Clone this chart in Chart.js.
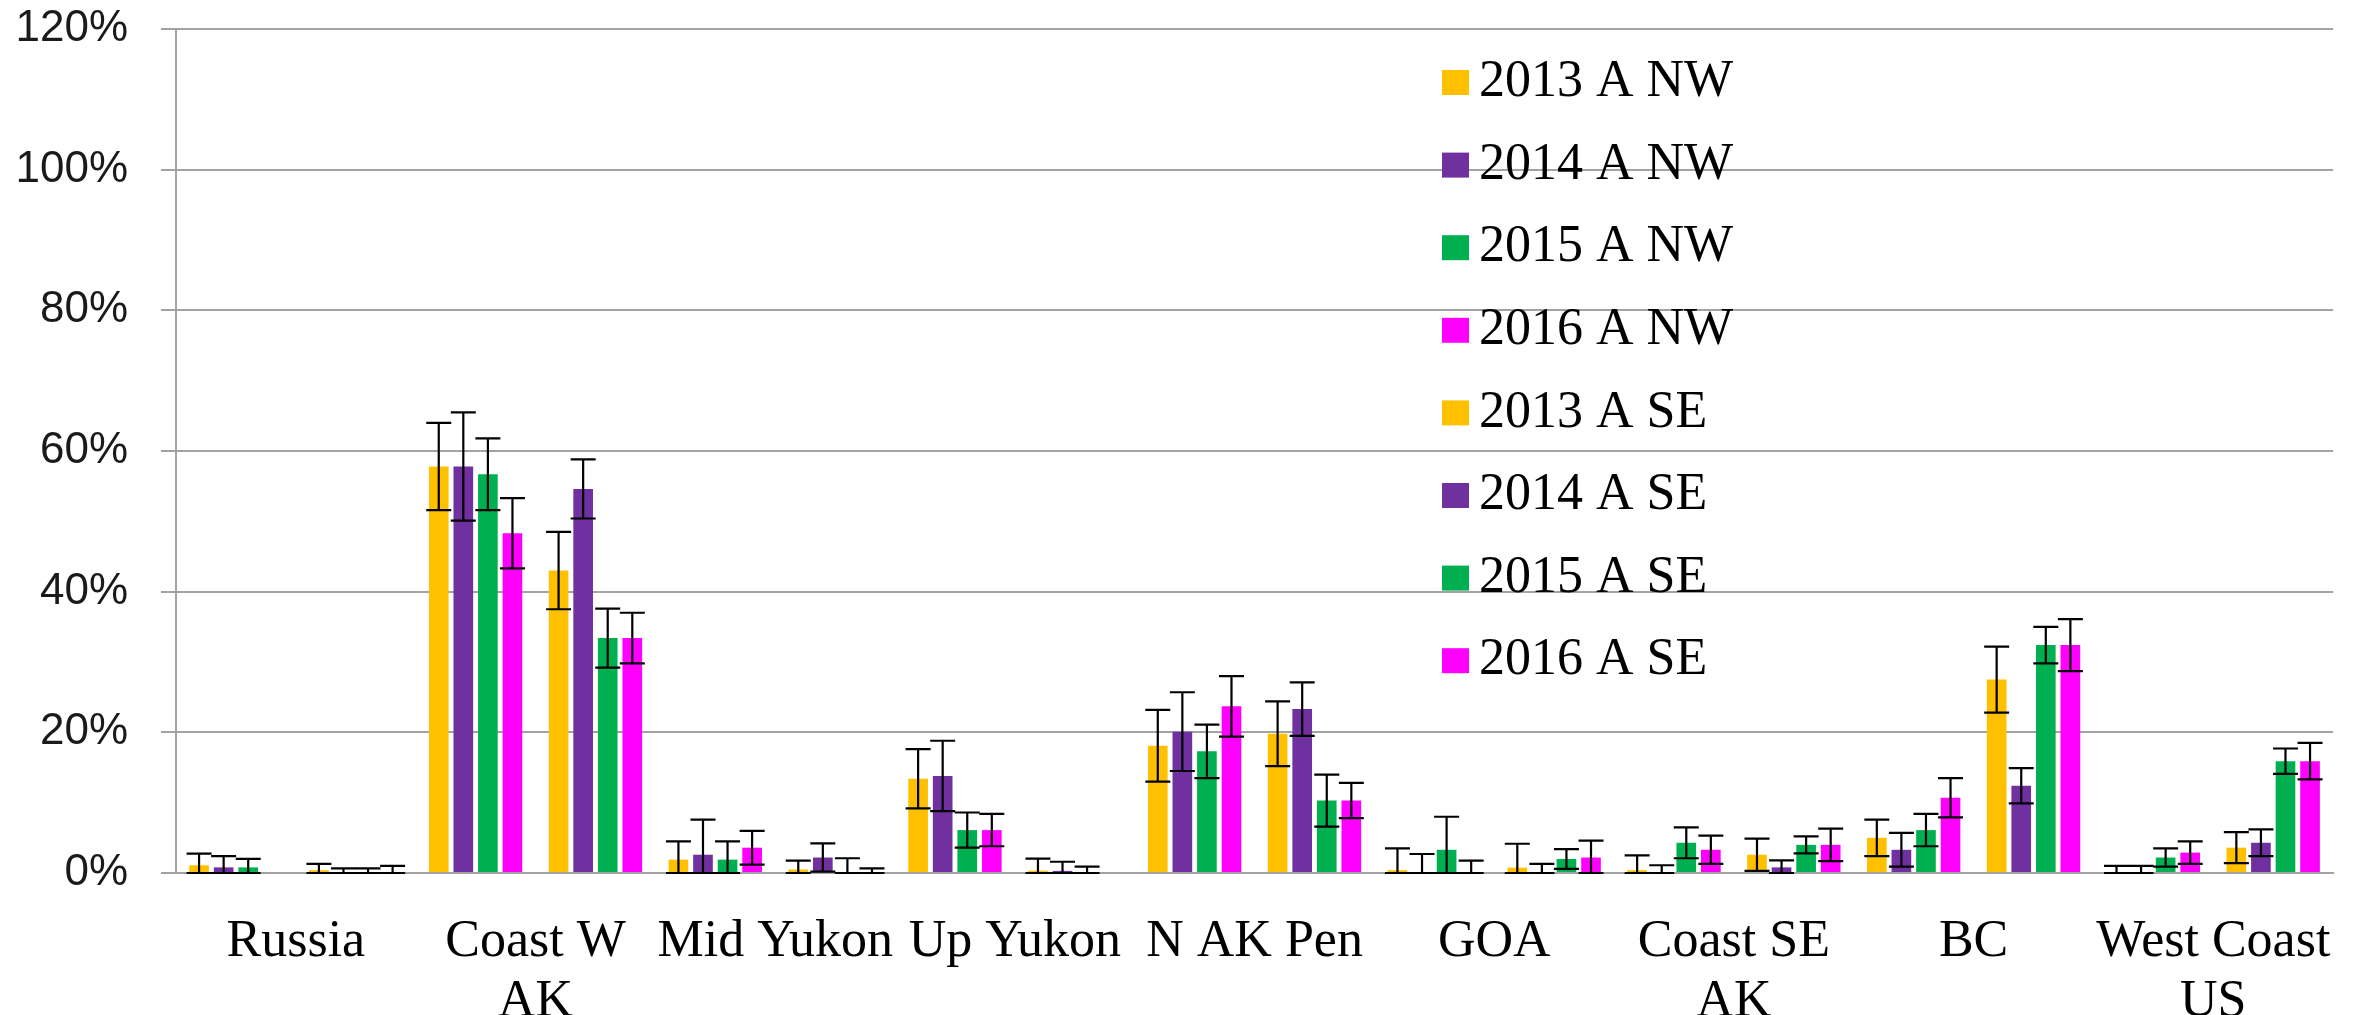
<!DOCTYPE html>
<html>
<head>
<meta charset="utf-8">
<script src="https://cdn.jsdelivr.net/npm/chart.js@4.4.0/dist/chart.umd.min.js"></script>
<style>
  html, body { margin: 0; padding: 0; background: #fff; }
  #wrap { width: 2363px; height: 1015px; }
</style>
</head>
<body>
<div id="wrap"><canvas id="chart" width="2363" height="1015"></canvas></div>
<script>
const regions = ["Russia", ["Coast W", "AK"], "Mid Yukon", "Up Yukon", "N AK Pen", "GOA", ["Coast SE", "AK"], "BC", ["West Coast", "US"]];
const yTicks = [0, 20, 40, 60, 80, 100, 120];

const nw2013 = [1.1, 57.8, 1.9, 13.4, 18.1, 0.4, 0.4, 5.0, 0];
const nw2014 = [0.8, 57.8, 2.6, 13.8, 20.1, 0, 0, 3.3, 0];
const nw2015 = [0.8, 56.7, 1.9, 6.1, 17.3, 3.3, 4.3, 6.1, 2.2];
const nw2016 = [0, 48.3, 3.6, 6.1, 23.7, 0, 3.3, 10.7, 2.9];
const se2013 = [0.4, 43.0, 0.5, 0.33, 19.8, 0.76, 2.6, 27.5, 3.6];
const se2014 = [0, 54.6, 2.2, 0.3, 23.3, 0, 0.8, 12.4, 4.3];
const se2015 = [0, 33.4, 0, 0, 10.3, 2.0, 4.0, 32.4, 15.9];
const se2016 = [0, 33.4, 0, 0, 10.3, 2.2, 4.0, 32.4, 15.9];

// error bar half-lengths
const nw2013Err = [1.65, 6.2, 2.6, 4.2, 5.1, 3.1, 2.1, 2.6, 1.0];
const nw2014Err = [1.6, 7.7, 5.0, 5.0, 5.6, 2.7, 1.1, 2.4, 1.0];
const nw2015Err = [1.2, 5.1, 2.6, 2.5, 3.8, 4.7, 2.2, 2.3, 1.3];
const nw2016Err = [0, 5.0, 2.4, 2.3, 4.3, 1.75, 2.0, 2.8, 1.6];
const se2013Err = [0.9, 5.5, 1.25, 1.7, 4.6, 3.4, 2.3, 4.7, 2.2];
const se2014Err = [0.66, 4.2, 2.0, 1.3, 3.8, 1.3, 1.0, 2.5, 1.9];
const se2015Err = [0.66, 4.2, 2.1, 0.9, 3.7, 1.4, 1.2, 2.6, 1.8];
const se2016Err = [1.0, 3.6, 0.66, 0, 2.5, 2.4, 2.3, 3.7, 2.6];

const colors = ["#FFC000", "#7030A0", "#00B050", "#FF00FF"];
const gridColor = "#a3a3a3";

// each region gets two slots: NW then SE
const slots = [];
regions.forEach((r, i) => { slots.push("NW " + i); slots.push("SE " + i); });

function spread(arr, side) {
  const out = [];
  arr.forEach(v => {
    if (side === 0) { out.push(v); out.push(null); }
    else { out.push(null); out.push(v); }
  });
  return out;
}

const series = [
  { label: "2013 A NW", data: nw2013, err: nw2013Err, side: 0, color: colors[0] },
  { label: "2014 A NW", data: nw2014, err: nw2014Err, side: 0, color: colors[1] },
  { label: "2015 A NW", data: nw2015, err: nw2015Err, side: 0, color: colors[2] },
  { label: "2016 A NW", data: nw2016, err: nw2016Err, side: 0, color: colors[3] },
  { label: "2013 A SE", data: se2013, err: se2013Err, side: 1, color: colors[0] },
  { label: "2014 A SE", data: se2014, err: se2014Err, side: 1, color: colors[1] },
  { label: "2015 A SE", data: se2015, err: se2015Err, side: 1, color: colors[2] },
  { label: "2016 A SE", data: se2016, err: se2016Err, side: 1, color: colors[3] }
];

const errorBars = {
  id: "errorBars",
  afterDatasetsDraw(chart) {
    const c = chart.ctx;
    const y = chart.scales.y;
    c.save();
    c.strokeStyle = "#000";
    c.lineWidth = 2.2;
    chart.data.datasets.forEach((ds, i) => {
      const meta = chart.getDatasetMeta(i);
      meta.data.forEach((bar, j) => {
        const v = ds.data[j];
        const e = ds.errors[j];
        if (v === null || !e) return;
        const top = y.getPixelForValue(v + e);
        const bot = y.getPixelForValue(Math.max(0, v - e));
        const x = bar.x;
        c.beginPath();
        c.moveTo(x, top); c.lineTo(x, bot);
        c.moveTo(x - 12.5, top); c.lineTo(x + 12.5, top);
        c.moveTo(x - 12.5, bot); c.lineTo(x + 12.5, bot);
        c.stroke();
      });
    });
    c.restore();
  }
};

const sideLegend = {
  id: "sideLegend",
  afterDraw(chart) {
    const c = chart.ctx;
    c.save();
    c.font = "52px 'Liberation Serif', serif";
    c.textBaseline = "middle";
    c.textAlign = "left";
    chart.data.datasets.forEach((ds, i) => {
      const cy = 82.5 + i * 82.6;
      c.fillStyle = ds.backgroundColor;
      c.fillRect(1442, cy - 12.5, 27, 25);
      c.fillStyle = "#000";
      c.fillText(ds.label, 1479, cy);
    });
    c.restore();
  }
};

window.addEventListener("load", function () {
  const ctx = document.getElementById("chart");
  new Chart(ctx, {
    type: "bar",
    data: {
      labels: slots,
      datasets: series.map(s => ({
        label: s.label,
        data: spread(s.data, s.side),
        errors: spread(s.err, s.side),
        backgroundColor: s.color,
        borderWidth: 0,
        skipNull: true,
        categoryPercentage: 0.82,
        barPercentage: 0.8
      }))
    },
    options: {
      responsive: false,
      animation: false,
      layout: { padding: { top: 29, right: 26, left: 0, bottom: 0 } },
      plugins: { legend: { display: false }, tooltip: { enabled: false } },
      scales: {
        x: { display: false },
        x2: {
          type: "category",
          position: "bottom",
          labels: regions,
          offset: true,
          grid: { display: false },
          border: { display: true, color: gridColor, width: 2 },
          ticks: {
            autoSkip: false,
            maxRotation: 0,
            padding: 31,
            color: "#000",
            font: { family: "'Liberation Serif', serif", size: 52, lineHeight: 1.154 }
          },
          afterFit(scale) { scale.height = 142; }
        },
        y: {
          min: 0,
          max: 120,
          afterBuildTicks(scale) { scale.ticks = yTicks.map(v => ({ value: v })); },
          grid: { color: gridColor, lineWidth: 2, tickLength: 15, drawTicks: true },
          border: { display: true, color: gridColor, width: 2 },
          ticks: {
            padding: 33,
            color: "#1a1a1a",
            font: { family: "'Liberation Sans', sans-serif", size: 44 },
            callback: v => v + "%"
          },
          afterFit(scale) {
            scale.width = 176;
            scale.paddingTop = 0;
            scale.paddingBottom = 0;
          }
        }
      }
    },
    plugins: [errorBars, sideLegend]
  });
});
</script>
</body>
</html>
